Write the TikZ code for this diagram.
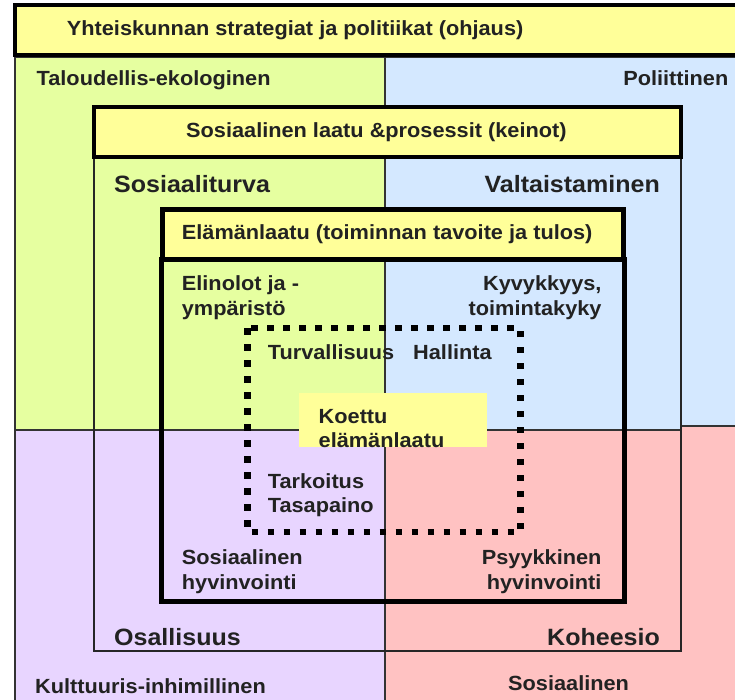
\documentclass[tikz,border=0pt]{standalone}
\usepackage{fontspec}
\setmainfont{Liberation Sans}[FakeStretch=1.06]
\usepackage{tikz}
\usetikzlibrary{positioning}
\definecolor{barYellow}{HTML}{FFFF99}
\definecolor{greenQ}{HTML}{E6FFA0}
\definecolor{blueQ}{HTML}{D4E8FF}
\definecolor{violetQ}{HTML}{E8D5FF}
\definecolor{pinkQ}{HTML}{FFC2C2}
\definecolor{wordGray}{HTML}{222222}
\tikzset{%
  title bar/.style={
    draw=black,
    line width=4pt,
    fill=barYellow
  },
  quarter/.style={
    draw=black!80,
    line width=1.2pt
  },
  thin frame/.style={
    draw=black!85,
    line width=1.6pt
  },
  thick frame/.style={
    draw=black,
    line width=5pt
  },
  dotted frame/.style={
    draw=black,
    line width=6.5pt,
    dash pattern=on 6.5pt off 9.5pt
  },
  word/.style={
    inner sep=0pt,
    text=wordGray,
    font=\bfseries\fontsize{20.5}{25}\selectfont
  },
  big word/.style={
    word,
    font=\bfseries\fontsize{23.6}{28}\selectfont
  },
}

\begin{document}
\begin{tikzpicture}[x=1pt, y=-1pt]

    \useasboundingbox (0,0) rectangle (735,700);

    \foreach \l/\t/\r/\b/\c in {15/57/385/430/greenQ, 385/57/737/426/blueQ,
        15/430/385/702/violetQ, 385/426/737/702/pinkQ}
    \draw [quarter, fill=\c] (\l,\t) rectangle (\r,\b);

    \draw [title bar] (15,5.5) rectangle (745,55.5);

    \foreach \l/\t/\r/\b/\c in {94/157.5/385/430/greenQ, 385/157.5/681/430/blueQ,
        94/430/385/651/violetQ, 385/430/681/651/pinkQ}
    \draw [quarter, fill=\c] (\l,\t) rectangle (\r,\b);
    \draw [thin frame] (94,157.5) rectangle (681,651);

    \draw [title bar] (94,107.5) rectangle (681,157.5);

    \foreach \l/\t/\r/\b/\c in {161.5/260/385/430/greenQ, 385/260/624/430/blueQ,
        161.5/430/385/601/violetQ, 385/430/624/601/pinkQ}
    \draw [quarter, fill=\c] (\l,\t) rectangle (\r,\b);
    \draw [thick frame] (161.5,260) rectangle (624,601);

    \draw [title bar, line width=5pt] (162.5,209.5) rectangle (623,260);

    \draw [dotted frame] (247.5,328) rectangle (520.5,532) -- cycle;

    \fill [barYellow] (299,393) rectangle (487,447);

    \node [word, anchor=base west] (society) at (66.7,36) {Yhteiskunnan strategiat ja politiikat (ohjaus)};
    \node [word, anchor=base west] (economic) at (36.5,86) {Taloudellis-ekologinen};
    \node [word, anchor=base east] (political) at (728.5,86) {Poliittinen};
    \node [word, anchor=base west] (cultural) at (35,693) {Kulttuuris-inhimillinen};
    \node [word, anchor=base west] (social) at (508,690) {Sosiaalinen};

    \node [word, anchor=base west] (quality) at (186,137.3) {Sosiaalinen laatu \&prosessit (keinot)};
    \node [big word, anchor=base west] (security) at (114,192.7) {Sosiaaliturva};
    \node [big word, anchor=base east] (empower) at (660,192.7) {Valtaistaminen};
    \node [big word, anchor=base west] (inclusion) at (114,645) {Osallisuus};
    \node [big word, anchor=base east] (cohesion) at (660,645) {Koheesio};

    \node [word, anchor=base west] (life) at (181.7,239.3) {Elämänlaatu (toiminnan tavoite ja tulos)};
    \node [word, anchor=base west] (living-1) at (181.7,290.7) {Elinolot ja -};
    \node [word, anchor=base west] (living-2) at ([yshift=-24.8pt]living-1.base west) {ympäristö};
    \node [word, anchor=base east] (ability-1) at (601.7,290.7) {Kyvykkyys,};
    \node [word, anchor=base east] (ability-2) at ([yshift=-24.8pt]ability-1.base east) {toimintakyky};
    \node [word, anchor=base west] (wellbeing-1) at (181.7,564.5) {Sosiaalinen};
    \node [word, anchor=base west] (wellbeing-2) at ([yshift=-24.8pt]wellbeing-1.base west) {hyvinvointi};
    \node [word, anchor=base east] (psyche-1) at (601.7,564.5) {Psyykkinen};
    \node [word, anchor=base east] (psyche-2) at ([yshift=-24.8pt]psyche-1.base east) {hyvinvointi};

    \node [word, anchor=base west] (safety) at (267.7,359) {Turvallisuus};
    \node [word, anchor=base west] (control) at (413,359) {Hallinta};
    \node [word, anchor=base west] (meaning) at (267.7,488) {Tarkoitus};
    \node [word, anchor=base west] (balance) at ([yshift=-24.8pt]meaning.base west) {Tasapaino};
    \node [word, anchor=base west] (felt-1) at (318.5,423) {Koettu};
    \node [word, anchor=base west] (felt-2) at ([yshift=-24.8pt]felt-1.base west) {elämänlaatu};

\end{tikzpicture}
\end{document}
